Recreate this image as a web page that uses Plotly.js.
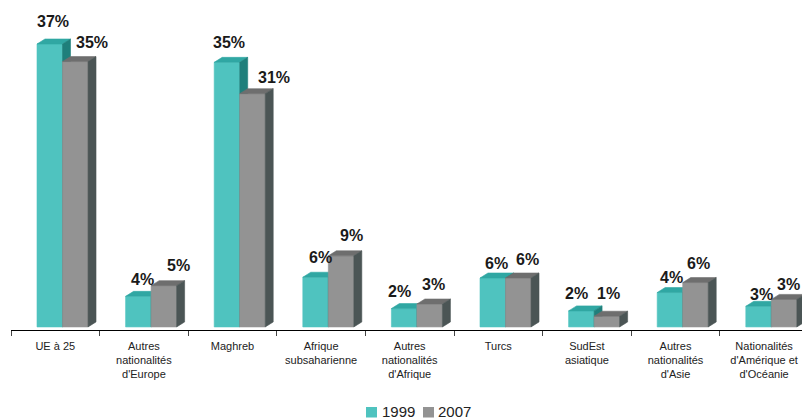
<!DOCTYPE html>
<html>
<head>
<meta charset="utf-8">
<script src="https://cdn.plot.ly/plotly-3.0.1.min.js"></script>
<style>html,body{margin:0;padding:0;background:#fff;}#chart{width:802px;height:419px;}</style>
</head>
<body>
<div id="chart"></div>
<script>
// ---- data ----
const categories = ['UE à 25', "Autres<br>nationalités<br>d'Europe", 'Maghreb', 'Afrique<br>subsaharienne',
  "Autres<br>nationalités<br>d'Afrique", 'Turcs', 'SudEst<br>asiatique', "Autres<br>nationalités<br>d'Asie",
  "Nationalités<br>d'Amérique et<br>d'Océanie"];
const seriesNames = ['1999', '2007'];
const values1999 = [37.0, 4.0, 34.6, 6.5, 2.4, 6.4, 2.1, 4.5, 2.7];
const values2007 = [34.7, 5.4, 30.5, 9.3, 3.0, 6.4, 1.4, 5.8, 3.6];
const labels1999 = ['37%', '4%', '35%', '6%', '2%', '6%', '2%', '4%', '3%'];
const labels2007 = ['35%', '5%', '31%', '9%', '3%', '6%', '1%', '6%', '3%'];

// ---- style ----
const faceColors = [
  {front: '#4fc3bf', top: '#30a7a3', side: '#1f7f7b'},
  {front: '#939393', top: '#6e6e6e', side: '#4b5555'}
];
const barOffsets = [-0.2065, 0.0815];   // left edge relative to category centre (category units)
const barWidth = 0.288;
const depthX = 0.09;    // 3D depth, category units
const depthY = 0.654;   // 3D depth, value units
const labelXShift = [[3.5, 4, 2, 4.5, -4.5, 3.5, -4.5, 1.5, 3], [17, 15, 22, 10, 4, 9, 2, 3, 4]];
const labelYShift = [[23, 17, 20, 20, 17, 15, 17, 15, 12], [19, 20, 16, 20, 20, 19, 23, 19, 15]];

const W = 802, H = 419;
const mL = 11, mR = 0, mT = 5, mB = 89;
const plotW = W - mL - mR, plotH = H - mT - mB;
const catPx = 88.6;
const xRange = [-0.5, -0.5 + plotW / catPx];
const yRange = [-0.4, 42.1];

const allValues = [values1999, values2007];
const allLabels = [labels1999, labels2007];
const traces = [];

function poly(xs, ys, color) {
  traces.push({
    type: 'scatter', mode: 'lines', x: xs.concat([xs[0]]), y: ys.concat([ys[0]]),
    fill: 'toself', fillcolor: color, line: {color: color, width: 0.6},
    hoverinfo: 'skip', showlegend: false
  });
}

categories.forEach((c, i) => {
  for (let s = 0; s < 2; s++) {
    const v = allValues[s][i];
    const x0 = i + barOffsets[s], x1 = x0 + barWidth;
    const col = faceColors[s];
    poly([x0, x1, x1, x0], [0, 0, v, v], col.front);
    poly([x0, x1, x1 + depthX, x0 + depthX], [v, v, v + depthY, v + depthY], col.top);
    poly([x1, x1 + depthX, x1 + depthX, x1], [0, depthY, v + depthY, v], col.side);
  }
});

const annotations = [];
categories.forEach((c, i) => {
  for (let s = 0; s < 2; s++) {
    const x0 = i + barOffsets[s];
    annotations.push({
      x: x0 + barWidth / 2, y: allValues[s][i], xref: 'x', yref: 'y',
      text: allLabels[s][i], showarrow: false, xanchor: 'center', yanchor: 'middle',
      xshift: labelXShift[s][i], yshift: labelYShift[s][i],
      font: {family: 'Liberation Sans, Arial, sans-serif', size: 16, weight: 700, color: '#1a1a1a'}
    });
  }
});

// legend (custom, placed in paper coords)
const px2paperX = p => (p - mL) / plotW;
const px2paperY = p => (H - mB - p) / plotH;
const legendItems = [{sq: 366, txt: 380}, {sq: 423, txt: 436}];
const shapes = [];
legendItems.forEach((it, s) => {
  shapes.push({type: 'rect', xref: 'paper', yref: 'paper',
    x0: px2paperX(it.sq), x1: px2paperX(it.sq + 11), y0: px2paperY(417.5), y1: px2paperY(407),
    fillcolor: faceColors[s].front, line: {width: 0}});
  annotations.push({xref: 'paper', yref: 'paper', x: px2paperX(it.txt), y: px2paperY(411),
    xanchor: 'left', yanchor: 'middle', showarrow: false, text: seriesNames[s],
    font: {family: 'Liberation Sans, Arial, sans-serif', size: 15, color: '#222'}});
});

const boundaries = categories.slice(0, -1).map((c, i) => i - 0.5);
boundaries.push(categories.length - 1.5);

const layout = {
  width: W, height: H,
  margin: {l: mL, r: mR, t: mT, b: mB, pad: 0},
  paper_bgcolor: '#fff', plot_bgcolor: '#fff',
  showlegend: false,
  xaxis: {
    range: xRange, tickmode: 'array', tickvals: categories.map((c, i) => i), ticktext: categories,
    ticks: '', showgrid: false, zeroline: false, showline: true, linecolor: '#000', linewidth: 1.3,
    tickfont: {family: 'Liberation Sans, Arial, sans-serif', size: 11, color: '#222'},
    ticklabelstandoff: 5,
    minor: {tickmode: 'array', tickvals: boundaries, ticks: 'outside', ticklen: 5, tickcolor: '#444', tickwidth: 1, showgrid: false},
    fixedrange: true
  },
  yaxis: {range: yRange, visible: false, showgrid: false, zeroline: false, fixedrange: true},
  annotations: annotations,
  shapes: shapes
};

Plotly.newPlot('chart', traces, layout, {staticPlot: true, displayModeBar: false});
</script>
</body>
</html>
